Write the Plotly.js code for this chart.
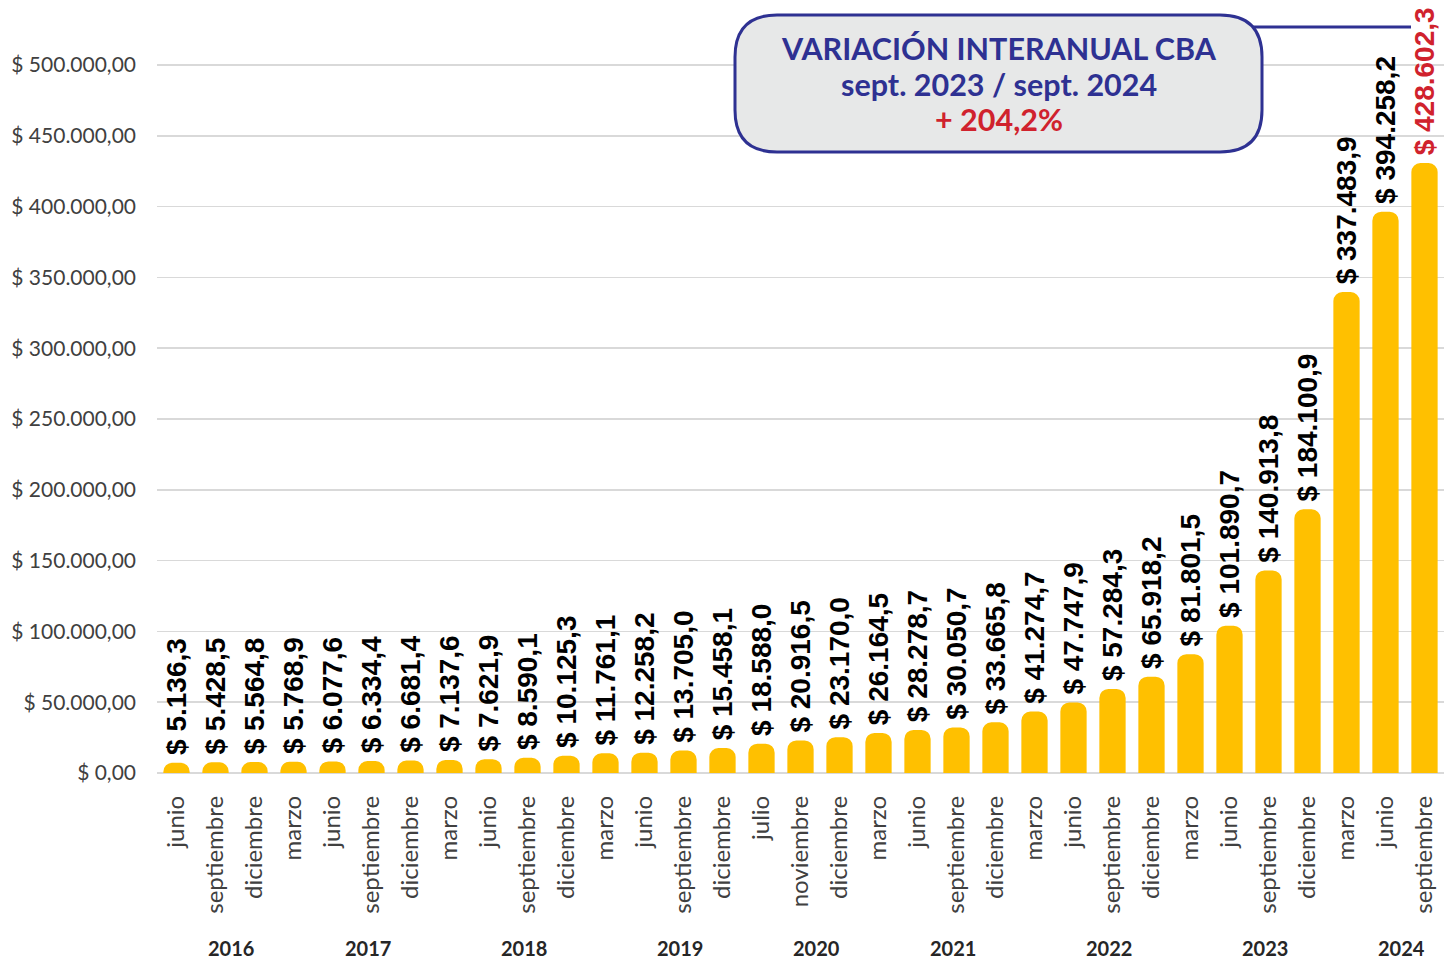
<!DOCTYPE html>
<html>
<head>
<meta charset="utf-8">
<script src="https://cdn.plot.ly/plotly-3.0.1.min.js"></script>
<style>html,body{margin:0;padding:0;background:#fff}#chart{width:1450px;height:965px}</style>
</head>
<body>
<div id="chart"></div>
<script>
const months = ["junio","septiembre","diciembre",
  "marzo","junio","septiembre","diciembre",
  "marzo","junio","septiembre","diciembre",
  "marzo","junio","septiembre","diciembre",
  "julio","noviembre","diciembre",
  "marzo","junio","septiembre","diciembre",
  "marzo","junio","septiembre","diciembre",
  "marzo","junio","septiembre","diciembre",
  "marzo","junio","septiembre"];
const values = [5136.3,5428.5,5564.8,
  5768.9,6077.6,6334.4,6681.4,
  7137.6,7621.9,8590.1,10125.3,
  11761.1,12258.2,13705.0,15458.1,
  18588.0,20916.5,23170.0,
  26164.5,28278.7,30050.7,33665.8,
  41274.7,47747.9,57284.3,65918.2,
  81801.5,101890.7,140913.8,184100.9,
  337483.9,394258.2,428602.3];
const years = ["2016","2017","2018","2019","2020","2021","2022","2023","2024"];
const yearCounts = [3,4,4,4,3,4,4,4,3];
const yTicks = [0,50000,100000,150000,200000,250000,300000,350000,400000,450000,500000];
const boxLines = ["VARIACIÓN INTERANUAL CBA","sept. 2023 / sept. 2024","+ 204,2%"];

const W = 1450, H = 965;
const M = {l:157, r:6, t:5, b:192};
const zeroPx = H - M.b;          // 773
const topTickPx = 65;            // pixel of 500.000 gridline
const yMax = 500000 * (zeroPx - M.t) / (zeroPx - topTickPx);
const pw = W - M.l - M.r, ph = H - M.t - M.b;
const px = x => (x - M.l) / pw;
const py = y => (H - M.b - y) / ph;

function fmt(v, dec) {
  const s = v.toFixed(dec).split(".");
  const int = s[0].replace(/\B(?=(\d{3})+(?!\d))/g, ".");
  return dec > 0 ? int + "," + s[1] : int;
}

const xIdx = months.map((_, i) => i);
const textColors = values.map((_, i) => i === values.length - 1 ? "#d0222d" : "#000000");
const labels = values.map(v => "\u00a0$ " + fmt(v, 1));

const trace = {
  type: "bar",
  x: xIdx,
  y: values,
  text: labels,
  texttemplate: "%{text}",
  marker: {color: "#FFC000", cornerradius: 6, line: {color: "#FFC000", width: 6}},
  textposition: "outside",
  textangle: -90,
  constraintext: "none",
  cliponaxis: true,
  textfont: {family: "Liberation Sans", size: 28, weight: 700, color: textColors},
  hoverinfo: "skip"
};

// year annotations
const annotations = [];
let start = 0;
years.forEach((yr, k) => {
  const n = yearCounts[k];
  const center = start + (n - 1) / 2 + 0.4;
  annotations.push({
    x: center, xref: "x", y: 0, yref: "paper", yanchor: "middle", yshift: -175,
    text: yr, showarrow: false,
    font: {family: "Lato", size: 20, weight: 700, color: "#262626"}
  });
  start += n;
});

// box
const bx0 = 735, bx1 = 1262, by0 = 15, by1 = 152, r = 42;
const path = [
  `M ${px(bx0 + r)} ${py(by0)}`,
  `L ${px(bx1 - r)} ${py(by0)}`,
  `Q ${px(bx1)} ${py(by0)} ${px(bx1)} ${py(by0 + r)}`,
  `L ${px(bx1)} ${py(by1 - r)}`,
  `Q ${px(bx1)} ${py(by1)} ${px(bx1 - r)} ${py(by1)}`,
  `L ${px(bx0 + r)} ${py(by1)}`,
  `Q ${px(bx0)} ${py(by1)} ${px(bx0)} ${py(by1 - r)}`,
  `L ${px(bx0)} ${py(by0 + r)}`,
  `Q ${px(bx0)} ${py(by0)} ${px(bx0 + r)} ${py(by0)}`,
  "Z"].join(" ");

const shapes = [
  {type: "line", xref: "paper", yref: "paper", x0: px(1250), x1: px(1411), y0: py(27), y1: py(27),
   line: {color: "#2e3192", width: 3}, layer: "above"},
  {type: "path", xref: "paper", yref: "paper", path: path,
   fillcolor: "#e7e8e8", line: {color: "#2e3192", width: 3}, layer: "above"}
];

const lineY = [48, 84, 119];
const lineColors = ["#2e3192", "#2e3192", "#d0222d"];
boxLines.forEach((t, i) => {
  annotations.push({
    x: px((bx0 + bx1) / 2), xref: "paper", y: py(lineY[i]), yref: "paper",
    yanchor: "middle", xanchor: "center", text: t, showarrow: false,
    font: {family: "Lato", size: 30.5, weight: 700, color: lineColors[i]}
  });
});

const layout = {
  width: W, height: H,
  margin: M,
  paper_bgcolor: "#ffffff", plot_bgcolor: "#ffffff",
  showlegend: false,
  bargap: 0.48,
  xaxis: {
    tickmode: "array", tickvals: xIdx, ticktext: months, tickangle: -90,
    range: [-0.5, months.length - 0.5],
    showgrid: false, zeroline: false, showline: false, ticks: "",
    ticklabelstandoff: 17,
    tickfont: {family: "Lato", size: 24, color: "#404040"}
  },
  yaxis: {
    range: [0, yMax], tickmode: "array", tickvals: yTicks,
    ticktext: yTicks.map(v => "$ " + fmt(v, 2)),
    showgrid: true, gridcolor: "#d9d9d9", gridwidth: 1.5,
    zeroline: true, zerolinecolor: "#d9d9d9", zerolinewidth: 1.5,
    showline: false, ticks: "", ticklabelstandoff: 20,
    tickfont: {family: "Lato", size: 21, color: "#404040"}
  },
  shapes: shapes,
  annotations: annotations
};

Plotly.newPlot("chart", [trace], layout, {displayModeBar: false, staticPlot: true});
</script>
</body>
</html>
